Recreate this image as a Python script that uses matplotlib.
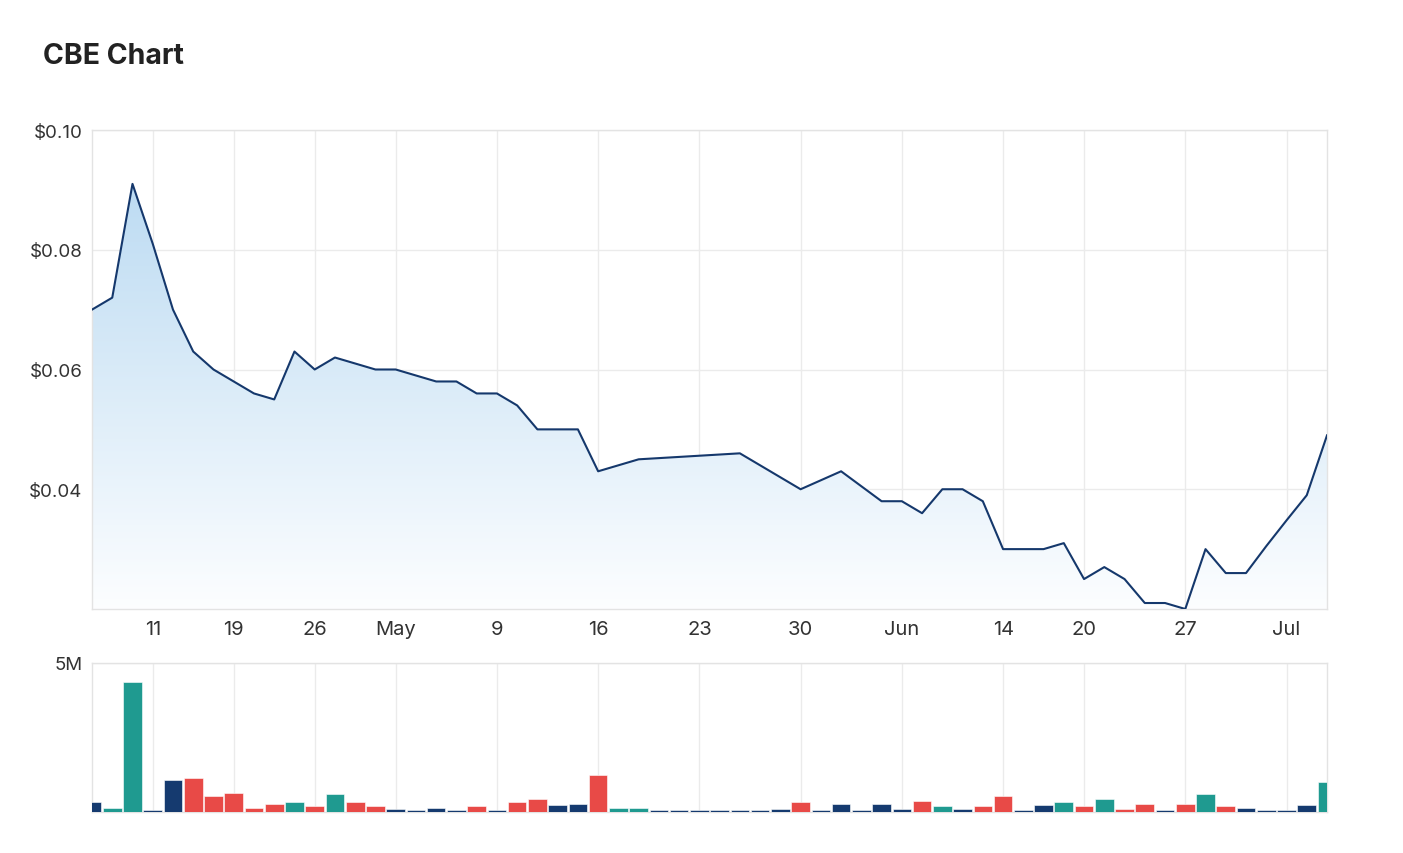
import numpy as np
import pandas as pd
import matplotlib
matplotlib.use('Agg')
import matplotlib.pyplot as plt
from matplotlib.patches import Polygon

plt.rcParams['font.family'] = ['Inter', 'DejaVu Sans']

# trading days (ASX, 2022) shown on the chart
holidays = ['2022-04-15', '2022-04-18', '2022-04-25', '2022-06-13']
days = pd.bdate_range('2022-04-06', '2022-07-06')
days = days[~days.isin(pd.to_datetime(holidays))]

price = [0.070, 0.072, 0.091, 0.081, 0.070, 0.063, 0.060, 0.058, 0.056, 0.055,
         0.063, 0.060, 0.062, 0.061, 0.060, 0.060, 0.059, 0.058, 0.058, 0.056,
         0.056, 0.054, 0.050, 0.050, 0.050, 0.043, 0.044, 0.045, 0.0452, 0.0454,
         0.0456, 0.0458, 0.046, 0.044, 0.042, 0.040, 0.0415, 0.043, 0.0405, 0.038,
         0.038, 0.036, 0.040, 0.040, 0.038, 0.030, 0.030, 0.030, 0.031, 0.025,
         0.027, 0.025, 0.021, 0.021, 0.020, 0.030, 0.026, 0.026, 0.0305, 0.0348,
         0.039, 0.049]

# volume in millions
volume = [0.32, 0.11, 4.36, 0.06, 1.08, 1.13, 0.53, 0.63, 0.11, 0.27,
          0.32, 0.18, 0.59, 0.32, 0.18, 0.08, 0.06, 0.11, 0.06, 0.18,
          0.07, 0.33, 0.43, 0.23, 0.27, 1.24, 0.11, 0.11, 0.06, 0.06,
          0.06, 0.06, 0.06, 0.06, 0.08, 0.33, 0.06, 0.27, 0.06, 0.27,
          0.08, 0.37, 0.18, 0.08, 0.18, 0.53, 0.06, 0.23, 0.33, 0.18,
          0.43, 0.08, 0.27, 0.06, 0.27, 0.59, 0.18, 0.11, 0.06, 0.06,
          0.23, 0.99]

# n = unchanged, t = up, r = down
vol_kind = list('nttnnrrrrr' 'trtrrnnnnr' 'nrrnnrttnn' 'nnnnnrnnnn'
                'nrtnrrnntr' 'trrnrtrnnn' 'nt')

tick_dates = ['2022-04-11', '2022-04-19', '2022-04-26', '2022-05-02', '2022-05-09',
              '2022-05-16', '2022-05-23', '2022-05-30', '2022-06-06', '2022-06-14',
              '2022-06-20', '2022-06-27', '2022-07-04']
tick_labels = ['11', '19', '26', 'May', '9', '16', '23', '30', 'Jun', '14', '20', '27', 'Jul']

kind_colors = {'n': '#153a6f', 't': '#1f9a90', 'r': '#e84a47'}

x = np.arange(len(days))
tick_pos = days.get_indexer(pd.to_datetime(tick_dates))

W, H = 1403, 854
fig = plt.figure(figsize=(W / 100, H / 100), dpi=100)
fig.patch.set_facecolor('white')

ax = fig.add_axes([92 / W, 1 - 610 / H, 1235 / W, 479 / H])
axv = fig.add_axes([92 / W, 1 - 812.7 / H, 1235 / W, 148.7 / H])

ymin, ymax = 0.02, 0.10

# gradient fill under the price line
grad = np.linspace(0, 1, 256).reshape(-1, 1)
top = np.array([0.74, 0.86, 0.95])
bot = np.array([0.99, 0.995, 1.0])
img = bot + (top - bot) * grad[..., None] * np.ones((1, 1, 3))
im = ax.imshow(img, extent=[0, len(x) - 1, ymin, max(price)], origin='lower',
               aspect='auto', zorder=1)
verts = [(0, ymin)] + list(zip(x, price)) + [(len(x) - 1, ymin)]
clip = Polygon(verts, closed=True, facecolor='none', edgecolor='none')
ax.add_patch(clip)
im.set_clip_path(clip)
ax.set_xlim(0, len(x) - 1)
ax.set_ylim(ymin, ymax)

ax.plot(x, price, color='#15386c', lw=1.5, zorder=3)

ax.set_yticks([0.04, 0.06, 0.08, 0.10])
ax.set_yticklabels(['$0.04', '$0.06', '$0.08', '$0.10'])
ax.set_xticks(tick_pos)
ax.set_xticklabels(tick_labels)

# volume bars
axv.bar(x, volume, width=0.92, color=[kind_colors[k] for k in vol_kind],
        edgecolor='white', linewidth=0.4, zorder=3)
axv.set_xlim(0, len(x) - 1)
axv.set_ylim(0, 5)
axv.set_yticks([5])
axv.set_yticklabels(['5M'])
axv.set_xticks(tick_pos)
axv.set_xticklabels([])

for a in (ax, axv):
    a.grid(True, color='#ebebeb', lw=1, zorder=0)
    a.set_axisbelow(True)
    for s in a.spines.values():
        s.set_color('#e3e3e3')
        s.set_linewidth(1)
    a.tick_params(length=0, colors='#333333')
ax.tick_params(axis='x', labelsize=14.5, pad=8)
ax.tick_params(axis='y', labelsize=13.5, pad=7)
axv.tick_params(axis='y', labelsize=13.5, pad=7)

fig.text(43 / W, 1 - 56 / H, 'CBE Chart', fontsize=20.5, fontweight='bold',
         color='#222222', va='center', ha='left')

fig.savefig('out.png', dpi=100)
